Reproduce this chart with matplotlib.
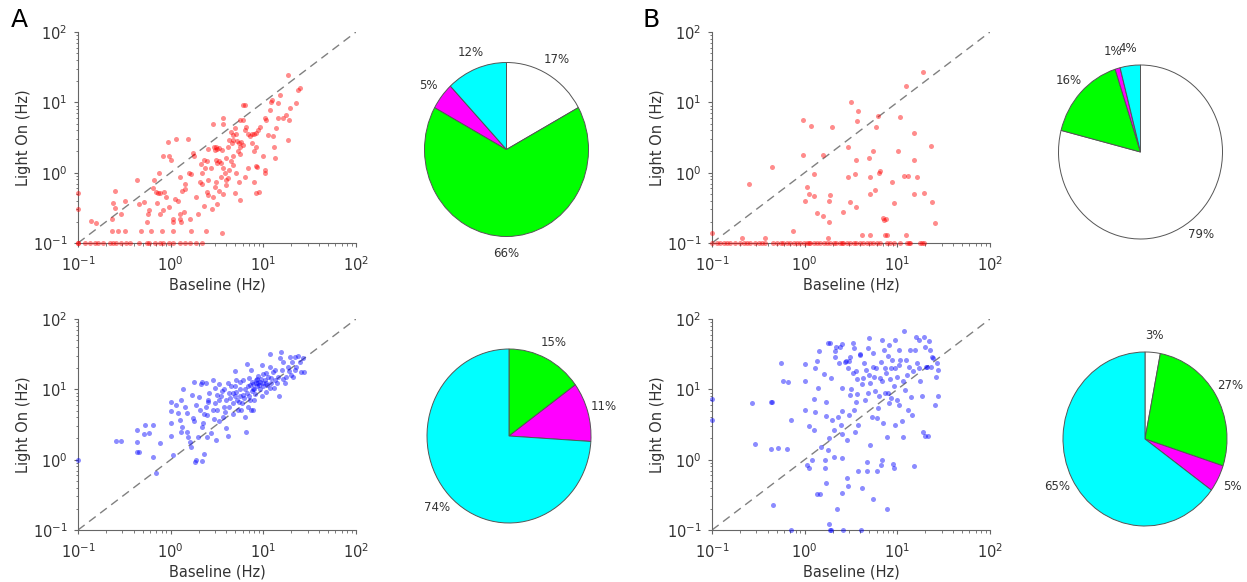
import numpy as np
import matplotlib
matplotlib.use("Agg")
import matplotlib.pyplot as plt

# ---------------- data ----------------
FLOOR = 0.1  # rate floor used for silenced units (Hz)

# Panel A, top (red): units at the floor (Light On = 0.1 Hz)
a_top_floor_baseline = [0.1, 0.1, 0.12, 0.134, 0.151, 0.164, 0.186, 0.22, 0.239, 0.26,
                        0.294, 0.33, 0.36, 0.46, 0.55, 0.59, 0.67, 0.76, 0.83, 0.97,
                        1.06, 1.25, 1.42, 1.6, 1.9, 2.2]
a_top_baseline = [0.1, 0.1, 0.139, 0.158, 0.23, 0.25, 0.24, 0.25, 0.32, 0.29,
                  0.27, 0.32, 0.23, 0.43, 0.46, 0.48, 0.51, 0.55, 0.57, 0.59,
                  0.62, 0.65, 0.66, 0.70, 0.73, 0.76, 0.71, 0.76, 0.81, 0.83,
                  0.85, 0.74, 0.83, 0.95, 1.02, 0.94, 1.15, 0.88, 0.95, 1.06,
                  1.06, 1.07, 1.1, 1.2, 1.25, 1.25, 1.3, 1.39, 1.33, 1.42,
                  1.25, 1.42, 1.6, 1.67, 1.54, 1.57, 1.67, 1.73, 1.8, 1.9,
                  1.98, 2.05, 2.2, 2.2, 2.1, 2.3, 2.35, 2.45, 2.5, 2.45,
                  2.55, 2.8, 2.85, 3.0, 3.1, 3.2, 3.35, 3.5, 3.7, 3.6,
                  2.4, 2.3, 2.85, 3.65, 3.7, 2.9, 3.1, 3.2, 3.0, 3.35,
                  3.1, 3.2, 2.75, 3.35, 3.5, 3.65, 3.85, 4.0, 4.15, 4.0,
                  4.3, 4.5, 4.7, 4.3, 4.5, 4.7, 4.9, 5.1, 5.2, 5.5,
                  5.6, 5.8, 6.0, 5.3, 5.6, 4.7, 5.1, 5.5, 5.6, 4.9,
                  6.4, 6.8, 6.3, 6.5, 6.8, 7.2, 7.6, 8.0, 8.4, 8.7,
                  9.1, 6.3, 6.1, 5.6, 6.0, 7.6, 7.9, 8.3, 8.4, 8.6,
                  8.0, 8.4, 9.0, 9.9, 10.3, 10.5, 10.3, 10.8, 11.2, 11.8,
                  12.2, 12.5, 12.6, 13.0, 13.3, 13.8, 14.5, 14.5, 15.0, 16.3,
                  17.7, 18.5, 18.5, 19.2, 19.0, 22.5, 23.6, 24.6, 4.6, 4.2,
                  4.0, 4.7, 3.6, 2.5]
a_top_light = [0.52, 0.30, 0.207, 0.19, 0.22, 0.55, 0.37, 0.31, 0.40, 0.26,
               0.15, 0.15, 0.15, 0.79, 0.36, 0.15, 0.38, 0.20, 0.26, 0.29,
               0.15, 0.60, 0.79, 0.53, 0.52, 0.52, 0.37, 0.26, 0.15, 0.29,
               0.53, 1.0, 1.75, 1.7, 1.5, 2.7, 3.0, 0.45, 0.32, 0.22,
               0.2, 0.15, 0.42, 0.40, 0.26, 0.22, 0.2, 0.28, 0.55, 0.58,
               0.88, 0.7, 0.22, 0.15, 3.0, 1.0, 0.95, 1.9, 1.7, 0.45,
               0.26, 0.74, 0.7, 1.0, 1.33, 1.5, 1.15, 1.45, 0.79, 0.53,
               0.48, 0.3, 0.45, 0.63, 0.74, 0.36, 0.55, 0.88, 0.5, 0.14,
               0.15, 0.34, 5.0, 5.0, 6.0, 2.3, 2.3, 2.2, 2.1, 2.25,
               1.5, 1.35, 1.15, 1.45, 1.35, 1.15, 1.0, 0.79, 0.83, 0.67,
               1.1, 1.45, 1.7, 2.9, 3.8, 3.4, 4.3, 3.6, 2.8, 2.6,
               2.3, 2.7, 2.5, 2.0, 1.85, 1.3, 1.0, 0.74, 0.41, 0.52,
               0.88, 1.15, 4.0, 4.5, 3.6, 3.3, 3.5, 3.5, 3.7, 4.0,
               4.4, 9.2, 9.3, 5.6, 5.6, 2.6, 2.0, 2.3, 1.25, 1.2,
               0.74, 0.52, 0.53, 1.7, 1.1, 1.0, 6.0, 5.6, 3.4, 7.8,
               10.0, 10.8, 3.3, 2.3, 1.6, 4.3, 6.0, 9.7, 12.8, 6.0,
               6.6, 2.9, 24.6, 8.2, 5.6, 9.7, 15.0, 15.8, 2.6, 2.3,
               1.6, 2.9, 2.1, 2.2]

# Panel A, bottom (blue)
a_bottom_baseline = [0.1, 0.26, 0.29, 0.43, 0.43, 0.43, 0.46, 0.53, 0.51, 0.58,
                     0.65, 0.64, 0.70, 0.76, 1.0, 1.0, 1.0, 1.0, 1.06, 1.15,
                     1.2, 1.25, 1.3, 1.33, 1.3, 1.36, 1.42, 1.5, 1.55, 1.6,
                     1.67, 1.7, 1.8, 1.73, 1.8, 1.86, 1.84, 1.98, 2.05, 2.0,
                     2.1, 2.2, 2.25, 2.3, 2.2, 2.4, 2.4, 2.45, 2.5, 2.55,
                     2.45, 2.75, 2.85, 3.0, 3.1, 3.2, 3.2, 3.35, 3.5, 3.65,
                     3.8, 4.0, 4.0, 4.15, 4.3, 4.5, 4.7, 4.7, 4.9, 4.9,
                     5.1, 5.2, 5.3, 5.6, 5.6, 5.9, 6.0, 6.3, 6.5, 6.7,
                     6.8, 7.0, 7.2, 7.3, 7.4, 7.6, 7.8, 8.0, 8.3, 8.4,
                     8.7, 9.0, 9.1, 9.6, 9.6, 10.0, 10.3, 10.6, 10.8, 11.2,
                     11.8, 11.8, 12.2, 12.6, 13.3, 13.5, 14.5, 14.8, 15.0, 15.7,
                     16.0, 16.3, 17.0, 17.7, 18.5, 19.2, 20.0, 20.5, 21.0, 21.7,
                     22.7, 23.7, 24.6, 25.7, 26.8, 27.4, 4.3, 5.1, 5.6, 6.3,
                     7.2, 8.0, 8.5, 9.1, 10.8, 11.8, 6.8, 4.7, 5.8, 3.35,
                     2.85, 2.3, 3.8, 4.15, 7.8, 6.0, 1.5, 1.9, 2.6, 3.0,
                     3.3, 3.6, 4.4, 5.0, 5.4, 6.2, 6.6, 7.0, 7.5, 8.2,
                     8.8, 9.4, 10.0, 11.0, 12.0, 13.0, 14.0, 16.5, 19.0, 22.0,
                     9.8, 8.6, 7.7, 3.9, 2.9, 2.2]
a_bottom_light = [1.0, 1.84, 1.84, 2.64, 1.8, 1.3, 1.3, 3.1, 2.3, 2.4,
                  3.1, 1.1, 0.64, 1.75, 6.7, 5.0, 3.3, 2.2, 1.15, 6.0,
                  4.6, 3.7, 7.0, 2.9, 2.5, 10.2, 5.7, 2.5, 2.1, 1.8,
                  1.5, 8.3, 12.8, 3.85, 3.6, 1.0, 0.92, 2.1, 5.1, 7.9,
                  11.8, 12.8, 3.3, 1.2, 0.95, 5.7, 12.2, 4.3, 7.0, 6.7,
                  2.1, 2.4, 13.5, 6.3, 1.9, 8.3, 5.1, 3.6, 8.0, 4.1,
                  10.2, 7.0, 2.8, 2.2, 5.7, 11.2, 8.9, 4.5, 8.0, 18.4,
                  9.3, 7.0, 5.1, 10.0, 12.8, 6.3, 8.3, 4.1, 2.5, 23.0,
                  11.2, 8.0, 7.0, 5.1, 18.8, 12.8, 10.0, 7.0, 13.5, 12.2,
                  12.4, 11.5, 10.0, 22.5, 8.0, 11.2, 13.5, 9.3, 17.0, 15.2,
                  21.0, 31.8, 12.2, 17.8, 13.5, 18.8, 15.2, 8.0, 27.5, 34.5,
                  18.8, 24.6, 12.2, 15.2, 21.0, 28.5, 16.0, 24.6, 15.2, 29.0,
                  21.0, 30.0, 24.4, 17.8, 27.5, 17.5, 8.9, 13.5, 8.0, 10.0,
                  11.5, 10.0, 13.8, 12.8, 12.2, 10.4, 5.7, 6.3, 5.1, 7.0,
                  5.1, 4.5, 5.7, 12.2, 5.1, 13.5, 4.6, 6.0, 9.0, 10.5,
                  12.0, 9.5, 7.5, 11.0, 6.5, 7.5, 9.0, 14.5, 9.5, 8.5,
                  15.5, 14.0, 16.5, 11.5, 14.5, 10.5, 12.5, 14.0, 18.0, 19.0,
                  12.5, 11.0, 12.0, 4.8, 3.8, 2.9]

# Panel B, top (red)
b_top_floor_baseline = [0.1, 0.113, 0.123, 0.134, 0.145, 0.158, 0.178, 0.202, 0.22, 0.239,
                        0.26, 0.293, 0.318, 0.346, 0.376, 0.46, 0.50, 0.55, 0.59, 0.64,
                        0.70, 0.76, 0.83, 0.90, 0.98, 1.06, 1.1, 1.15, 1.25, 1.36,
                        1.48, 1.6, 1.74, 1.9, 2.05, 2.2, 2.4, 2.5, 2.6, 2.85,
                        3.1, 3.4, 3.6, 4.0, 4.3, 4.7, 5.1, 5.5, 6.0, 6.5,
                        7.7, 8.4, 9.1, 10.7, 12.7, 13.3, 13.8, 17.7, 18.5, 19.2]
b_top_baseline = [0.1, 0.21, 0.37, 1.8, 0.25, 0.44, 0.75, 0.96, 0.96, 1.0,
                  1.06, 1.1, 1.16, 1.25, 1.25, 1.36, 1.57, 1.57, 1.84, 1.84,
                  1.9, 1.97, 2.6, 2.9, 2.9, 3.1, 3.15, 3.5, 3.6, 3.7,
                  3.8, 3.6, 4.2, 5.0, 5.1, 5.1, 5.1, 5.5, 5.7, 5.9,
                  6.2, 6.3, 6.5, 7.0, 7.2, 7.6, 7.4, 7.7, 8.8, 9.1,
                  10.2, 10.7, 11.8, 12.3, 13.0, 12.5, 15.0, 15.0, 15.0, 16.3,
                  18.9, 19.2, 23.0, 23.5, 25.6]
b_top_light = [0.14, 0.118, 0.118, 0.118, 0.68, 1.22, 0.15, 5.6, 1.79, 0.39,
               0.62, 0.49, 4.6, 0.96, 0.46, 0.27, 1.79, 0.24, 0.2, 0.39,
               0.48, 4.4, 0.28, 2.35, 0.86, 0.38, 10.0, 0.97, 1.5, 5.5,
               7.6, 0.32, 0.13, 1.6, 0.86, 0.49, 0.13, 2.05, 0.57, 4.4,
               6.3, 1.0, 1.05, 0.23, 0.21, 0.22, 0.13, 0.13, 0.74, 0.37,
               2.0, 6.2, 0.91, 0.13, 0.89, 17.2, 3.7, 1.5, 0.5, 0.87,
               27.0, 0.51, 2.4, 0.38, 0.19]

# Panel B, bottom (blue)
b_bottom_baseline = [0.1, 0.1, 0.27, 0.29, 0.43, 0.44, 0.43, 0.46, 0.52, 0.55,
                     0.58, 0.64, 0.66, 0.72, 0.72, 1.0, 1.0, 1.0, 1.05, 1.1,
                     1.1, 1.2, 1.25, 1.25, 1.3, 1.3, 1.35, 1.35, 1.45, 1.43,
                     1.4, 1.5, 1.65, 1.6, 1.65, 1.7, 1.68, 1.7, 1.8, 1.86,
                     1.8, 1.82, 1.82, 1.86, 1.92, 1.92, 1.95, 2.05, 2.05, 2.1,
                     2.15, 2.2, 2.25, 2.3, 2.35, 2.4, 2.45, 2.5, 2.55, 2.55,
                     2.55, 2.55, 2.55, 2.6, 2.7, 2.8, 2.85, 2.85, 2.9, 3.0,
                     3.0, 3.05, 3.1, 3.2, 3.3, 3.4, 3.4, 3.5, 3.55, 3.6,
                     3.7, 3.8, 3.8, 4.0, 4.0, 4.1, 4.2, 4.3, 4.4, 4.5,
                     4.6, 4.65, 4.7, 4.8, 4.9, 5.1, 5.1, 5.3, 5.4, 5.5,
                     5.5, 5.8, 6.0, 6.1, 6.2, 6.5, 6.7, 6.7, 6.8, 6.8,
                     7.0, 7.1, 7.3, 7.4, 7.7, 7.7, 8.1, 8.1, 8.4, 8.6,
                     8.8, 9.0, 9.2, 9.4, 9.5, 9.5, 9.8, 10.0, 10.3, 10.3,
                     10.8, 11.1, 11.6, 11.8, 12.2, 12.4, 13.0, 13.4, 13.6, 14.2,
                     14.5, 15.0, 15.5, 15.9, 16.5, 17.2, 17.6, 18.5, 19.0, 19.2,
                     19.7, 20.0, 20.5, 21.0, 21.5, 22.0, 22.6, 23.0, 23.5, 24.5,
                     25.6, 26.2, 26.6, 27.8, 27.8, 3.3, 4.2, 5.0, 5.9, 6.9,
                     7.6, 8.5, 9.2, 10.5, 12.8, 3.7, 2.9, 6.3, 7.9, 11.5,
                     14.8, 17.0, 4.8, 5.6, 8.0]
b_bottom_light = [7.3, 3.7, 6.3, 1.67, 6.7, 6.7, 1.4, 0.23, 1.45, 24.0,
                  13.1, 1.4, 12.6, 3.7, 0.1, 22.7, 13.2, 5.1, 0.83, 0.76,
                  3.0, 1.0, 2.6, 7.4, 4.8, 20.0, 25.3, 0.33, 0.33, 35.0,
                  10.3, 1.5, 0.76, 16.5, 1.0, 6.7, 0.46, 4.2, 46.0, 46.0,
                  1.35, 2.0, 0.12, 0.1, 0.1, 14.4, 3.7, 2.6, 1.1, 35.0,
                  29.0, 40.0, 0.2, 4.1, 23.5, 40.0, 3.1, 44.0, 10.6, 4.9,
                  2.3, 1.05, 0.34, 0.1, 24.6, 25.0, 1.9, 0.55, 0.42, 25.0,
                  4.3, 28.5, 8.3, 10.0, 45.0, 38.5, 5.1, 2.5, 18.5, 6.7,
                  8.5, 3.1, 0.7, 31.5, 31.0, 0.1, 0.4, 14.4, 23.5, 7.1,
                  18.9, 0.93, 0.7, 38.5, 53.0, 1.6, 12.2, 4.1, 0.28, 32.5,
                  21.0, 9.6, 0.7, 3.9, 5.4, 14.4, 0.83, 24.6, 51.0, 0.99,
                  3.3, 36.0, 9.0, 19.8, 2.1, 0.2, 43.0, 6.3, 14.0, 7.6,
                  26.0, 0.88, 0.76, 19.8, 50.0, 3.1, 15.2, 7.1, 6.0, 36.0,
                  26.0, 3.5, 2.1, 67.0, 9.8, 26.0, 5.1, 21.0, 36.0, 7.8,
                  4.3, 0.8, 36.0, 56.0, 23.5, 50.0, 13.0, 8.1, 2.5, 56.0,
                  40.0, 2.2, 21.0, 21.0, 2.2, 48.0, 36.0, 21.0, 29.0, 28.0,
                  6.0, 15.2, 23.5, 19.0, 8.0, 17.0, 12.0, 16.0, 20.0, 13.0,
                  17.0, 20.0, 11.0, 22.0, 16.0, 14.0, 20.0, 8.0, 9.0, 13.0,
                  18.0, 20.0, 9.0, 15.0, 30.0]

# Pie charts: categories in clockwise order from 12 o'clock
pie_categories = ["none", "green", "magenta", "cyan"]
pie_colors = ["#ffffff", "#00ff00", "#ff00ff", "#00ffff"]
a_top_pct = [17, 66, 5, 12]
a_bottom_pct = [0, 15, 11, 74]
b_top_pct = [79, 16, 1, 4]
b_bottom_pct = [3, 27, 5, 65]

# ---------------- figure ----------------
W, H = 1247, 582
fig = plt.figure(figsize=(W / 100, H / 100), dpi=100)
TEXT = "#333333"


def px_axes(left, top, right, bottom):
    return fig.add_axes([left / W, 1 - bottom / H, (right - left) / W, (bottom - top) / H])


def scatter_panel(ax, bx, by, color):
    ax.set_xscale("log")
    ax.set_yscale("log")
    ax.plot([0.1, 100], [0.1, 100], ls=(0, (6, 4)), color="#808080", lw=1, zorder=2)
    ax.scatter(bx, by, s=13, c=color, alpha=0.45, linewidths=0, clip_on=False, zorder=3)
    ax.set_xlim(0.1, 100)
    ax.set_ylim(0.1, 100)
    for s in ("top", "right"):
        ax.spines[s].set_visible(False)
    for s in ("left", "bottom"):
        ax.spines[s].set_color("#666666")
        ax.spines[s].set_linewidth(0.8)
    ax.set_xticks([0.1, 1, 10, 100])
    ax.set_yticks([0.1, 1, 10, 100])
    ax.tick_params(which="major", labelsize=10.5, labelcolor=TEXT, color="#666666", length=3)
    ax.tick_params(axis="x", which="major", pad=5.5)
    ax.tick_params(axis="y", which="major", pad=4.5)
    ax.tick_params(which="minor", color="#666666", length=1.8)
    ax.set_xlabel("Baseline (Hz)", fontsize=10.5, color=TEXT, labelpad=3)
    ax.set_ylabel("Light On (Hz)", fontsize=10.5, color=TEXT, labelpad=1)


def pie_panel(cx, cy, pct):
    rx, ry = 82.0, 87.0
    lim = 1.25
    ax = fig.add_axes([(cx - rx * lim) / W, 1 - (cy + ry * lim) / H,
                       2 * rx * lim / W, 2 * ry * lim / H])
    vals = [v for v in pct if v > 0]
    cols = [c for v, c in zip(pct, pie_colors) if v > 0]
    ax.pie(vals, colors=cols, startangle=90, counterclock=False,
           autopct=lambda p: f"{p:.0f}%", pctdistance=1.2,
           wedgeprops=dict(edgecolor="#555555", linewidth=0.7),
           textprops=dict(fontsize=8.5, color=TEXT))
    ax.set_aspect("auto")
    ax.set_xlim(-lim, lim)
    ax.set_ylim(-lim, lim)
    ax.axis("off")


ax1 = px_axes(78, 32, 356, 243)
scatter_panel(ax1, a_top_baseline + a_top_floor_baseline,
              a_top_light + [FLOOR] * len(a_top_floor_baseline), "red")
ax2 = px_axes(78, 319, 356, 530)
scatter_panel(ax2, a_bottom_baseline, a_bottom_light, "blue")
ax3 = px_axes(712, 32, 990, 243)
scatter_panel(ax3, b_top_baseline + b_top_floor_baseline,
              b_top_light + [FLOOR] * len(b_top_floor_baseline), "red")
ax4 = px_axes(712, 319, 990, 530)
scatter_panel(ax4, b_bottom_baseline, b_bottom_light, "blue")

pie_panel(506.5, 149.5, a_top_pct)
pie_panel(509, 436, a_bottom_pct)
pie_panel(1140.5, 152, b_top_pct)
pie_panel(1145, 439, b_bottom_pct)

fig.text(11 / W, 1 - 8 / H, "A", fontsize=18, ha="left", va="top", color="black")
fig.text(643 / W, 1 - 8 / H, "B", fontsize=18, ha="left", va="top", color="black")

fig.savefig("out.png", dpi=100)
